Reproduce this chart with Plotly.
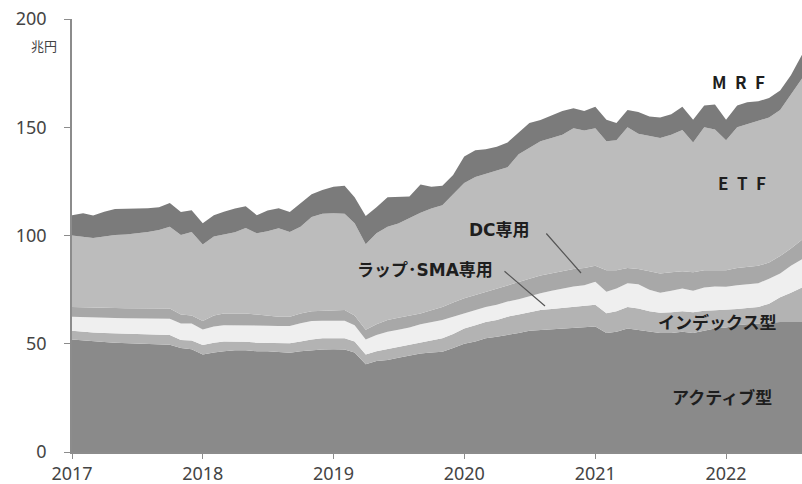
import pandas as pd
import plotly.graph_objects as go

# Monthly net assets by fund type (trillion yen), Jan 2017 - Aug 2022
months = pd.date_range("2017-01-01", periods=68, freq="MS")

active = [52, 51.5, 51, 50.8, 50.5, 50.3, 50.2, 50.2, 50, 49.5,
          48, 47.5, 45, 46, 46.5, 47, 47, 46.5, 46.5, 46,
          45.8, 46.5, 47, 47.4, 47.5, 47.4, 46, 40.5, 42, 42.5,
          43.5, 44.5, 45.5, 46, 46.3, 48, 50, 51, 52.5, 53.2,
          54, 55, 56, 56.3, 56.8, 57, 57.5, 57.8, 58, 55,
          55.5, 57, 56.3, 55.5, 55, 55, 55.5, 55, 56, 57,
          57.5, 58.5, 59, 59.4, 59.5, 60, 60, 60]
index_type = [4, 4, 4.2, 4.2, 4.3, 4.4, 4.3, 4.3, 4.3, 4.5,
              3.7, 4, 4.4, 4.5, 4.5, 4, 3.9, 4, 4, 4.2,
              4.4, 4.5, 5, 5.1, 5.1, 5.1, 5, 4.5, 4.5, 5,
              5, 5, 5, 5.5, 6.2, 6.5, 7, 7.5, 7.5, 7.8,
              8.5, 8.5, 8.5, 9.3, 9.2, 9.5, 9.5, 9.7, 10, 9.1,
              9.5, 10, 10, 9.5, 9.3, 9.5, 9.5, 9.5, 9.3, 8.5,
              8.1, 7.5, 7.5, 7.6, 9, 11.5, 13.5, 16]
wrap_sma = [6.5, 6.8, 6.8, 7, 7.1, 7.1, 7.3, 7.2, 7.4, 7.5,
            7.7, 7.9, 7.2, 7.5, 7.6, 7.6, 7.7, 7.9, 7.8, 8,
            8, 8.5, 8.5, 8.1, 8, 8.1, 7.5, 7, 7.5, 8,
            8, 8, 8.5, 8.5, 8.5, 8, 7, 7, 7, 7,
            7, 7, 7.5, 7.7, 8.5, 9, 9.5, 9.5, 10.6, 9.9,
            10.5, 10.9, 11.2, 10, 9.2, 10, 10.5, 10, 10.7, 11,
            10.7, 11, 11, 11, 11.5, 11, 12.5, 13]
dc_only = [4.5, 4.5, 4.6, 4.5, 4.6, 4.6, 4.5, 4.6, 4.6, 4.8,
           4.1, 3.6, 3.9, 5, 5.4, 5.4, 5.4, 5.1, 4.7, 4.3,
           4.3, 4.5, 4.5, 4.7, 5, 5, 4.5, 4.5, 5, 5.5,
           5.5, 5.5, 5, 5.5, 6, 6.5, 7, 7, 7, 7.5,
           7.5, 8, 8, 8.2, 8, 8, 8, 8, 7.4, 10,
           8.5, 7.1, 7, 8.5, 9, 8.5, 8, 8.5, 8, 7.5,
           7.7, 8, 8, 8, 7.5, 8, 8, 9]
etf = [33, 32.7, 32.2, 33, 33.7, 34.1, 34.7, 35.3, 36.2, 37.7,
       36.7, 38.6, 35.3, 36.5, 36.5, 37.5, 39.5, 37.5, 39, 40.9,
       39.1, 40, 43.5, 44.7, 44.7, 44.4, 42.7, 39.5, 42, 43,
       43.5, 45, 46.5, 47, 47, 50, 53.2, 54.5, 54.5, 54.5,
       54.5, 59, 60.5, 62, 62.5, 63, 65, 63.5, 63.5, 59.5,
       60, 65, 62.5, 62.5, 62.5, 63.5, 65.2, 60, 66, 65,
       60, 65, 66, 67, 67, 67.5, 71, 74.5]
mrf = [9.4, 10.8, 10.4, 11.5, 12, 11.8, 11.5, 11, 10.5, 11,
       10.6, 10.1, 9.9, 9.9, 10.5, 11, 10, 8.4, 9.5, 9.2,
       9.2, 11, 10.5, 11, 12.2, 13, 12, 13, 12, 13.7,
       12.5, 10, 13, 10, 9, 9, 12.3, 12.4, 11.3, 11,
       11.5, 10, 11.5, 9.8, 10.5, 11, 9.3, 9, 10, 10,
       8, 8, 10, 9, 9.5, 9.5, 10.8, 10.5, 10, 11.5,
       9.5, 10, 10, 9, 9, 9, 9, 11]

year_ticks = ["2017", "2018", "2019", "2020", "2021", "2022"]
y_ticks = [0, 50, 100, 150, 200]

layers = [
    ("アクティブ型", active, "#8a8a8a"),
    ("インデックス型", index_type, "#b3b3b3"),
    ("ラップ・SMA専用", wrap_sma, "#efefef"),
    ("DC専用", dc_only, "#a8a8a8"),
    ("ETF", etf, "#bcbcbc"),
    ("MRF", mrf, "#7b7b7b"),
]

fig = go.Figure()
for name, vals, color in layers:
    fig.add_trace(go.Scatter(
        x=months, y=vals, name=name, mode="lines",
        stackgroup="funds", line=dict(width=0, color=color),
        fillcolor=color, hoverinfo="x+y+name",
    ))

label_font = dict(family="Noto Sans CJK JP", size=17, color="#1e1e1e")
mixed_font = dict(family="DejaVu Sans, Noto Sans CJK JP", size=17, color="#1e1e1e")
W, H = 730.0, 433.0  # plot-area size in px


def px(x, y):
    return (x - 72) / W, (452 - y) / H


def text_label(txt, x, y, font=label_font, xanchor="center"):
    xp, yp = px(x, y)
    fig.add_annotation(text=txt, x=xp, y=yp, xref="paper", yref="paper",
                       showarrow=False, font=font, xanchor=xanchor, yanchor="middle")


def leader(x0, y0, x1, y1):
    xp, yp = px(x1, y1)
    fig.add_annotation(text="", x=xp, y=yp, xref="paper", yref="paper",
                       ax=x0 - x1, ay=y0 - y1, showarrow=True, arrowhead=0,
                       arrowwidth=1.2, arrowcolor="#555555")


text_label("<b>M\u2002R\u2002F</b>", 738, 82)
text_label("<b>E\u2002T\u2002F</b>", 742, 182)
text_label("<b>DC専用</b>", 499, 230, font=mixed_font)
text_label("<b>ラップ･SMA専用</b>", 425, 270, font=mixed_font)
text_label("<b>インデックス型</b>", 717, 321)
text_label("<b>アクティブ型</b>", 722, 396)
leader(545, 232, 581, 273)
leader(503, 270, 545, 306)

# unit label under the top y tick
text_label("兆円", 59, 45, font=dict(family="Noto Sans CJK JP", size=13, color="#444444"),
           xanchor="right")

axis_col = "#8c8c8c"
tick_font = dict(family="Noto Sans", size=18, color="#444444")

fig.update_layout(
    width=802, height=484,
    margin=dict(l=72, r=0, t=19, b=32),
    paper_bgcolor="white", plot_bgcolor="white",
    showlegend=False,
    xaxis=dict(
        type="date",
        range=[months[0], months[-1]],
        tickvals=[pd.Timestamp(f"{y}-01-01") for y in year_ticks],
        ticktext=year_ticks,
        showline=True, linecolor=axis_col, linewidth=1.5,
        ticks="outside", ticklen=5, tickcolor=axis_col,
        showgrid=False, zeroline=False, tickfont=tick_font,
    ),
    yaxis=dict(
        range=[0, 200], tickvals=y_ticks,
        showline=True, linecolor=axis_col, linewidth=1.5,
        ticks="outside", ticklen=6, tickcolor=axis_col,
        ticklabelstandoff=14,
        showgrid=False, zeroline=False, tickfont=tick_font,
    ),
)

fig.write_html("out.html")
